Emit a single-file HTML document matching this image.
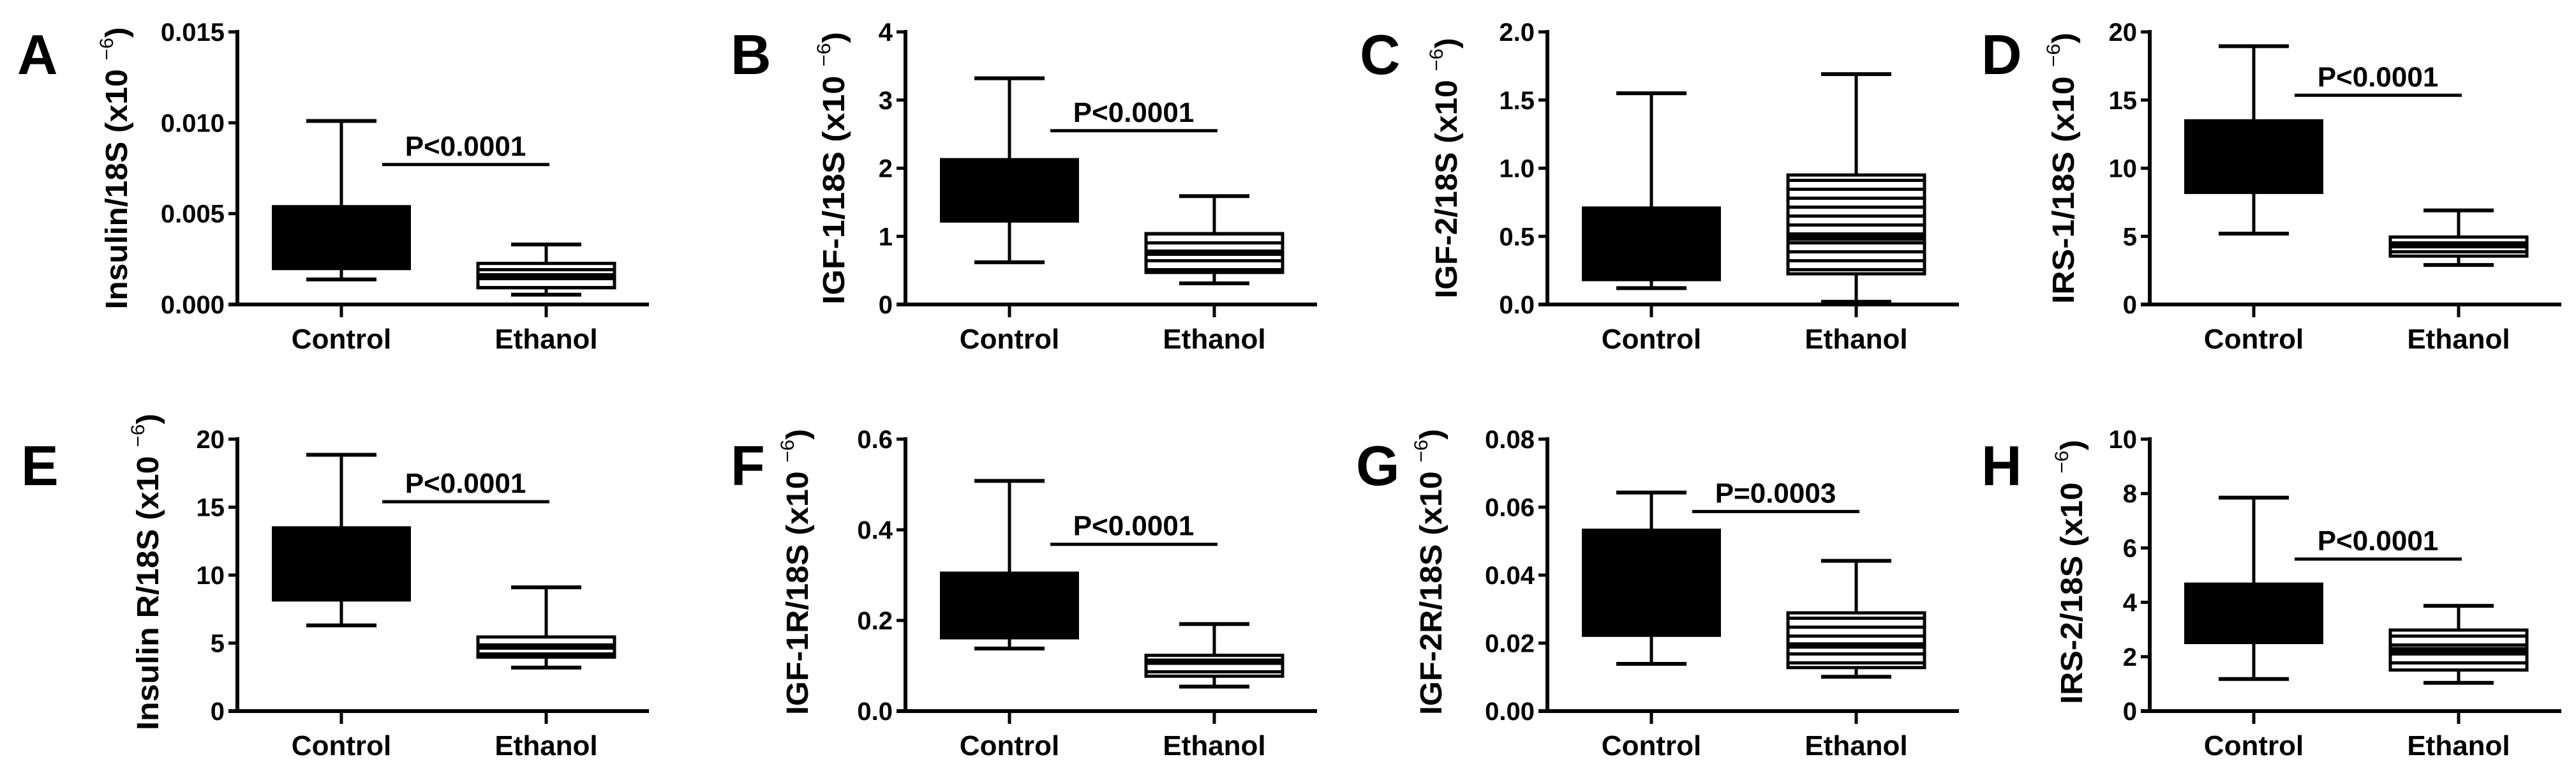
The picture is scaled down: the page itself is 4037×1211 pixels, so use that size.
<!DOCTYPE html>
<html><head><meta charset="utf-8">
<style>
html,body{margin:0;padding:0;background:#fff;}
svg{display:block;}
text{font-family:"Liberation Sans",Arial,sans-serif;font-weight:bold;fill:#000;}
</style></head>
<body>
<svg id="fig" width="4037" height="1211" viewBox="0 0 4037 1211" xmlns="http://www.w3.org/2000/svg">
<defs>
<pattern id="stripes" patternUnits="userSpaceOnUse" width="20" height="14">
<rect x="0" y="0" width="20" height="14" fill="#fff"/>
<rect x="0" y="0" width="20" height="5" fill="#000"/>
</pattern>
</defs>
</svg>
<script>
// ---- data ----
const panelLetters = ["A","B","C","D","E","F","G","H"];
const yTitles = ["Insulin/18S (x10","IGF-1/18S (x10","IGF-2/18S (x10","IRS-1/18S (x10","Insulin R/18S (x10","IGF-1R/18S (x10","IGF-2R/18S (x10","IRS-2/18S (x10"];
const categories = ["Control","Ethanol"];
const yMax = [0.015, 4, 2, 20, 20, 0.6, 0.08, 10];
const tickLabels = [
 ["0.000","0.005","0.010","0.015"],
 ["0","1","2","3","4"],
 ["0.0","0.5","1.0","1.5","2.0"],
 ["0","5","10","15","20"],
 ["0","5","10","15","20"],
 ["0.0","0.2","0.4","0.6"],
 ["0.00","0.02","0.04","0.06","0.08"],
 ["0","2","4","6","8","10"]
];
// [min, q1, median, q3, max]
const controlStats = [
 [0.00138,0.00196,0.0035,0.0054,0.0101],
 [0.62,1.22,1.6,2.13,3.32],
 [0.12,0.18,0.4,0.71,1.55],
 [5.2,8.2,10.5,13.5,18.95],
 [6.3,8.15,10.5,13.5,18.85],
 [0.138,0.161,0.22,0.305,0.508],
 [0.0139,0.0222,0.035,0.0533,0.0643],
 [1.18,2.51,3.4,4.68,7.85]
];
const ethanolStats = [
 [0.00054,0.00092,0.00155,0.00226,0.0033],
 [0.31,0.47,0.76,1.04,1.59],
 [0.02,0.225,0.49,0.95,1.69],
 [2.9,3.55,4.35,4.95,6.9],
 [3.2,3.97,4.75,5.45,9.1],
 [0.054,0.077,0.109,0.123,0.192],
 [0.0101,0.0128,0.0193,0.0289,0.0442],
 [1.04,1.51,2.24,2.98,3.87]
];
const pLabels = ["P<0.0001","P<0.0001",null,"P<0.0001","P<0.0001","P<0.0001","P=0.0003","P<0.0001"];
const pLineValues = [0.0077,2.55,null,15.35,15.4,0.368,0.0587,5.59];

// ---- layout ----
const axisX = [372,1419,2425,3369];
const rowTop = [50,688], rowBottom = [477,1114];
const letterX = [27,1145,2131,3105,33,1145,2125,3105];
const titleCX = [182,1306,2266,3233,231,1249,2242,3246];
const titleLen = [442,427,408,425,496,448,448,414];
const NS = "http://www.w3.org/2000/svg";
const svg = document.getElementById('fig');
function mk(tag, attrs, parent){const e=document.createElementNS(NS,tag);for(const k in attrs)e.setAttribute(k,attrs[k]);(parent||svg).appendChild(e);return e;}

for(let p=0;p<8;p++){
  const row = p<4?0:1, col = p%4;
  const ax = axisX[col], top=rowTop[row], bot=rowBottom[row];
  const y = v => bot - v/yMax[p]*(bot-top);
  const xC = ax+163, xE = ax+484;
  const g = mk('g',{});
  
  

  const L = mk('text',{x:letterX[p],y:row?760:116,'font-size':88},g);
  L.textContent = panelLetters[p];
  
  

  // y title
  const tcy = (top+bot)/2 + (row?-5:0);
  const T = mk('text',{transform:`translate(${titleCX[p]+17},${tcy}) rotate(-90)`,'text-anchor':'middle','font-size':48,textLength:titleLen[p],lengthAdjust:'spacingAndGlyphs'},g);
  
  
  const t1 = mk('tspan',{},T); t1.textContent = yTitles[p]+" ";
  const t2 = mk('tspan',{dy:-22,'font-size':30,'font-weight':'normal'},T); t2.textContent = "\u22126";
  const t3 = mk('tspan',{dy:22},T); t3.textContent = ")";

  // axes
  const ya = mk('line',{x1:ax,y1:top-3,x2:ax,y2:bot+3,stroke:'#000','stroke-width':6},g);
  
  
  const xa = mk('line',{x1:ax-14,y1:bot,x2:ax+645,y2:bot,stroke:'#000','stroke-width':6},g);
  
  
  const n = tickLabels[p].length;
  for(let i=0;i<n;i++){
    const v = yMax[p]*i/(n-1);
    const ty = y(v);
    mk('line',{x1:ax-14,y1:ty,x2:ax,y2:ty,stroke:'#000','stroke-width':5},g);
    const tl = mk('text',{x:ax-20,y:ty+14,'text-anchor':'end','font-size':40},g);
    tl.textContent = tickLabels[p][i];
    
    
  }
  [xC,xE].forEach((cx,i)=>{
    mk('line',{x1:cx,y1:bot,x2:cx,y2:bot+20,stroke:'#000','stroke-width':5},g);
    const cl = mk('text',{x:cx,y:bot+69,'text-anchor':'middle','font-size':44},g);
    cl.textContent = categories[i];
    
    
  });

  // boxes
  [[controlStats[p],xC,true],[ethanolStats[p],xE,false]].forEach(([s,cx,filled])=>{
    const bg = mk('g',{},g);
    
    
    mk('line',{x1:cx,y1:y(s[4]),x2:cx,y2:y(s[0]),stroke:'#000','stroke-width':5},bg);
    mk('line',{x1:cx-55,y1:y(s[4]),x2:cx+55,y2:y(s[4]),stroke:'#000','stroke-width':6},bg);
    mk('line',{x1:cx-55,y1:y(s[0]),x2:cx+55,y2:y(s[0]),stroke:'#000','stroke-width':6},bg);
    const bt=y(s[3]), bb=y(s[1]);
    if(filled){
      mk('rect',{x:cx-107,y:bt,width:214,height:bb-bt,fill:'#000',stroke:'#000','stroke-width':4},bg);
    } else {
      mk('rect',{x:cx-107,y:bt,width:214,height:bb-bt,fill:'url(#stripes)',stroke:'#000','stroke-width':5},bg);
      mk('line',{x1:cx-107,y1:y(s[2]),x2:cx+107,y2:y(s[2]),stroke:'#000','stroke-width':10},bg);
    }
  });

  if(pLabels[p]){
    const ly = y(pLineValues[p]);
    const pl = mk('line',{x1:xC+64,y1:ly,x2:xE+5,y2:ly,stroke:'#000','stroke-width':5},g);
    
    
    const pt = mk('text',{x:(xC+xE)/2+34,y:ly-14,'text-anchor':'middle','font-size':44},g);
    pt.textContent = pLabels[p];
    
    
  }
}
</script>
</body></html>
